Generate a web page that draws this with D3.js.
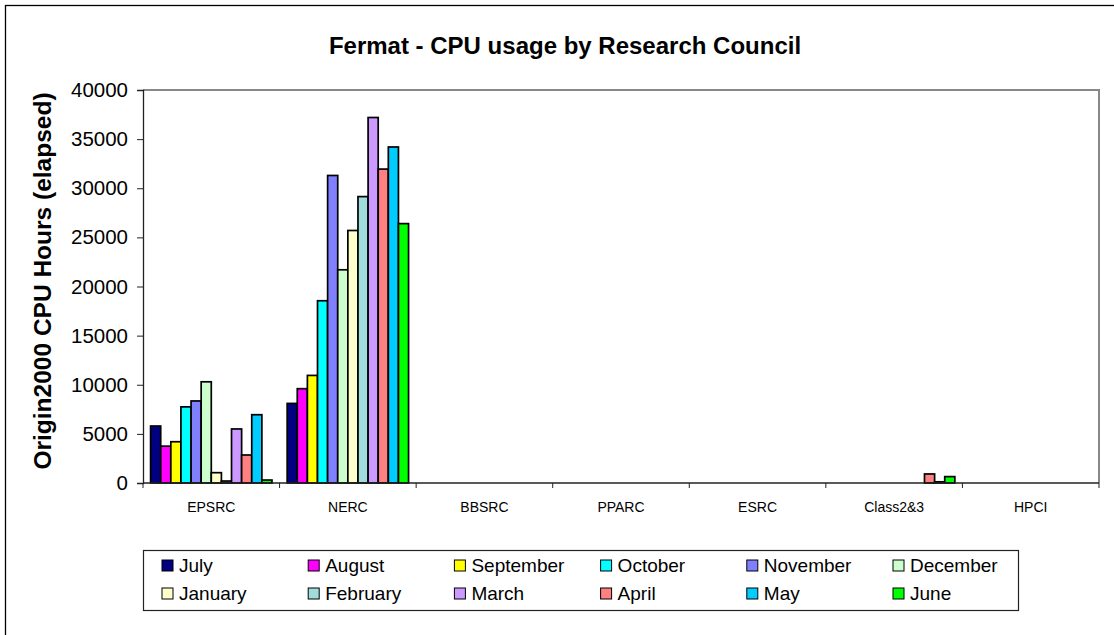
<!DOCTYPE html>
<html>
<head>
<meta charset="utf-8">
<script src="https://cdn.jsdelivr.net/npm/d3@7"></script>
<style>
  body { margin: 0; background: #fff; }
  svg text { font-family: "Liberation Sans", Arial, sans-serif; fill: #000; }
</style>
</head>
<body>
<svg id="chart" width="1114" height="635"></svg>
<script>
// Data //////////////////////////////////////////////////////////////////////
var councils = ['EPSRC', 'NERC', 'BBSRC', 'PPARC', 'ESRC', 'Class2&3', 'HPCI'];
var months = ['July', 'August', 'September', 'October', 'November', 'December',
              'January', 'February', 'March', 'April', 'May', 'June'];
var monthColors = ['#000080', '#FF00FF', '#FFFF00', '#00FFFF', '#8080FF', '#CCFFCC',
                   '#FFFFCC', '#A0DCDC', '#CC99FF', '#FF8080', '#00CCFF', '#00FF00'];
// hours per council, one array per month (order follows councils)
var july      = [5800, 8100, 0, 0, 0, 0, 0];
var august    = [3750, 9600, 0, 0, 0, 0, 0];
var september = [4200, 10950, 0, 0, 0, 0, 0];
var october   = [7750, 18550, 0, 0, 0, 0, 0];
var november  = [8350, 31300, 0, 0, 0, 0, 0];
var december  = [10300, 21700, 0, 0, 0, 0, 0];
var january   = [1050, 25700, 0, 0, 0, 0, 0];
var february  = [200, 29150, 0, 0, 0, 0, 0];
var march     = [5500, 37200, 0, 0, 0, 0, 0];
var april     = [2850, 31950, 0, 0, 0, 920, 0];
var may       = [6950, 34200, 0, 0, 0, 120, 0];
var june      = [300, 26400, 0, 0, 0, 650, 0];
var seriesValues = [july, august, september, october, november, december,
                    january, february, march, april, may, june];
var yTicks = [0, 5000, 10000, 15000, 20000, 25000, 30000, 35000, 40000];

var svg = d3.select('#chart');

// outer chart frame (runs off right/bottom edge like the source)
svg.append('rect').attr('x', 5.5).attr('y', 5.5).attr('width', 1200).attr('height', 700)
  .attr('fill', 'none').attr('stroke', '#000').attr('stroke-width', 1.3);

var plot = {left: 143, right: 1099, top: 90, bottom: 483};

var x = d3.scaleBand().domain(councils).range([plot.left, plot.right]);
var xm = d3.scaleBand().domain(months).range([0, x.bandwidth()])
  .paddingInner(0).paddingOuter(0.75);
var y = d3.scaleLinear().domain([0, 40000]).range([plot.bottom, plot.top]);

// plot area border (top + right in grey)
svg.append('path')
  .attr('d', 'M' + plot.left + ',' + y(40000) + 'H' + plot.right + 'V' + plot.bottom)
  .attr('fill', 'none').attr('stroke', '#888').attr('stroke-width', 2);

// Bars //////////////////////////////////////////////////////////////////////
var rows = [];
councils.forEach(function(c, ci) {
  months.forEach(function(m, mi) {
    rows.push({council: c, month: m, value: seriesValues[mi][ci], color: monthColors[mi]});
  });
});

svg.append('g').selectAll('rect').data(rows.filter(function(d) { return d.value > 0 }))
  .join('rect')
  .attr('x', function(d) { return x(d.council) + xm(d.month) })
  .attr('y', function(d) { return y(d.value) })
  .attr('width', xm.bandwidth())
  .attr('height', function(d) { return y(0) - y(d.value) })
  .attr('fill', function(d) { return d.color })
  .attr('stroke', '#000').attr('stroke-width', 1.7);

// Axes //////////////////////////////////////////////////////////////////////
var yAxis = svg.append('g').attr('transform', 'translate(' + plot.left + ',0)')
  .call(d3.axisLeft(y).tickValues(yTicks).tickSize(6).tickPadding(9).tickFormat(d3.format('d')));
yAxis.select('.domain').attr('stroke', '#222').attr('stroke-width', 1.3);
yAxis.selectAll('.tick line').attr('stroke', '#222');
yAxis.selectAll('.tick text').style('font-size', '20.5px').attr('fill', '#000');

var xAxis = svg.append('g').attr('transform', 'translate(0,' + plot.bottom + ')');
xAxis.append('line').attr('x1', plot.left).attr('x2', plot.right)
  .attr('stroke', '#222').attr('stroke-width', 1.3);
xAxis.selectAll('line.tk').data(councils.concat(['_end']))
  .join('line').attr('class', 'tk')
  .attr('x1', function(d, i) { return i < councils.length ? x(d) : plot.right })
  .attr('x2', function(d, i) { return i < councils.length ? x(d) : plot.right })
  .attr('y1', 0).attr('y2', 5).attr('stroke', '#222');
xAxis.selectAll('text').data(councils).join('text')
  .attr('x', function(d) { return x(d) + x.bandwidth() / 2 })
  .attr('y', 29).attr('text-anchor', 'middle')
  .style('font-size', '14px').text(function(d) { return d });

// Titles ////////////////////////////////////////////////////////////////////
svg.append('text').attr('x', 565).attr('y', 54).attr('text-anchor', 'middle')
  .style('font-size', '24px').style('font-weight', 'bold')
  .text('Fermat - CPU usage by Research Council');

svg.append('text').attr('transform', 'translate(51,281) rotate(-90)')
  .attr('text-anchor', 'middle')
  .style('font-size', '24.5px').style('font-weight', 'bold')
  .text('Origin2000 CPU Hours (elapsed)');

// Legend ////////////////////////////////////////////////////////////////////
var legend = svg.append('g');
legend.append('rect').attr('x', 143.5).attr('y', 550.5).attr('width', 875).attr('height', 60)
  .attr('fill', '#fff').attr('stroke', '#222').attr('stroke-width', 1.2);
var items = legend.selectAll('g.item').data(months).join('g').attr('class', 'item')
  .attr('transform', function(d, i) {
    return 'translate(' + (162 + (i % 6) * 146.2) + ',' + (560 + Math.floor(i / 6) * 28) + ')';
  });
items.append('rect').attr('width', 11).attr('height', 11)
  .attr('fill', function(d, i) { return monthColors[i] })
  .attr('stroke', '#000').attr('stroke-width', 1);
items.append('text').attr('x', 17).attr('y', 11.5)
  .style('font-size', '19px').text(function(d) { return d });
</script>
</body>
</html>
